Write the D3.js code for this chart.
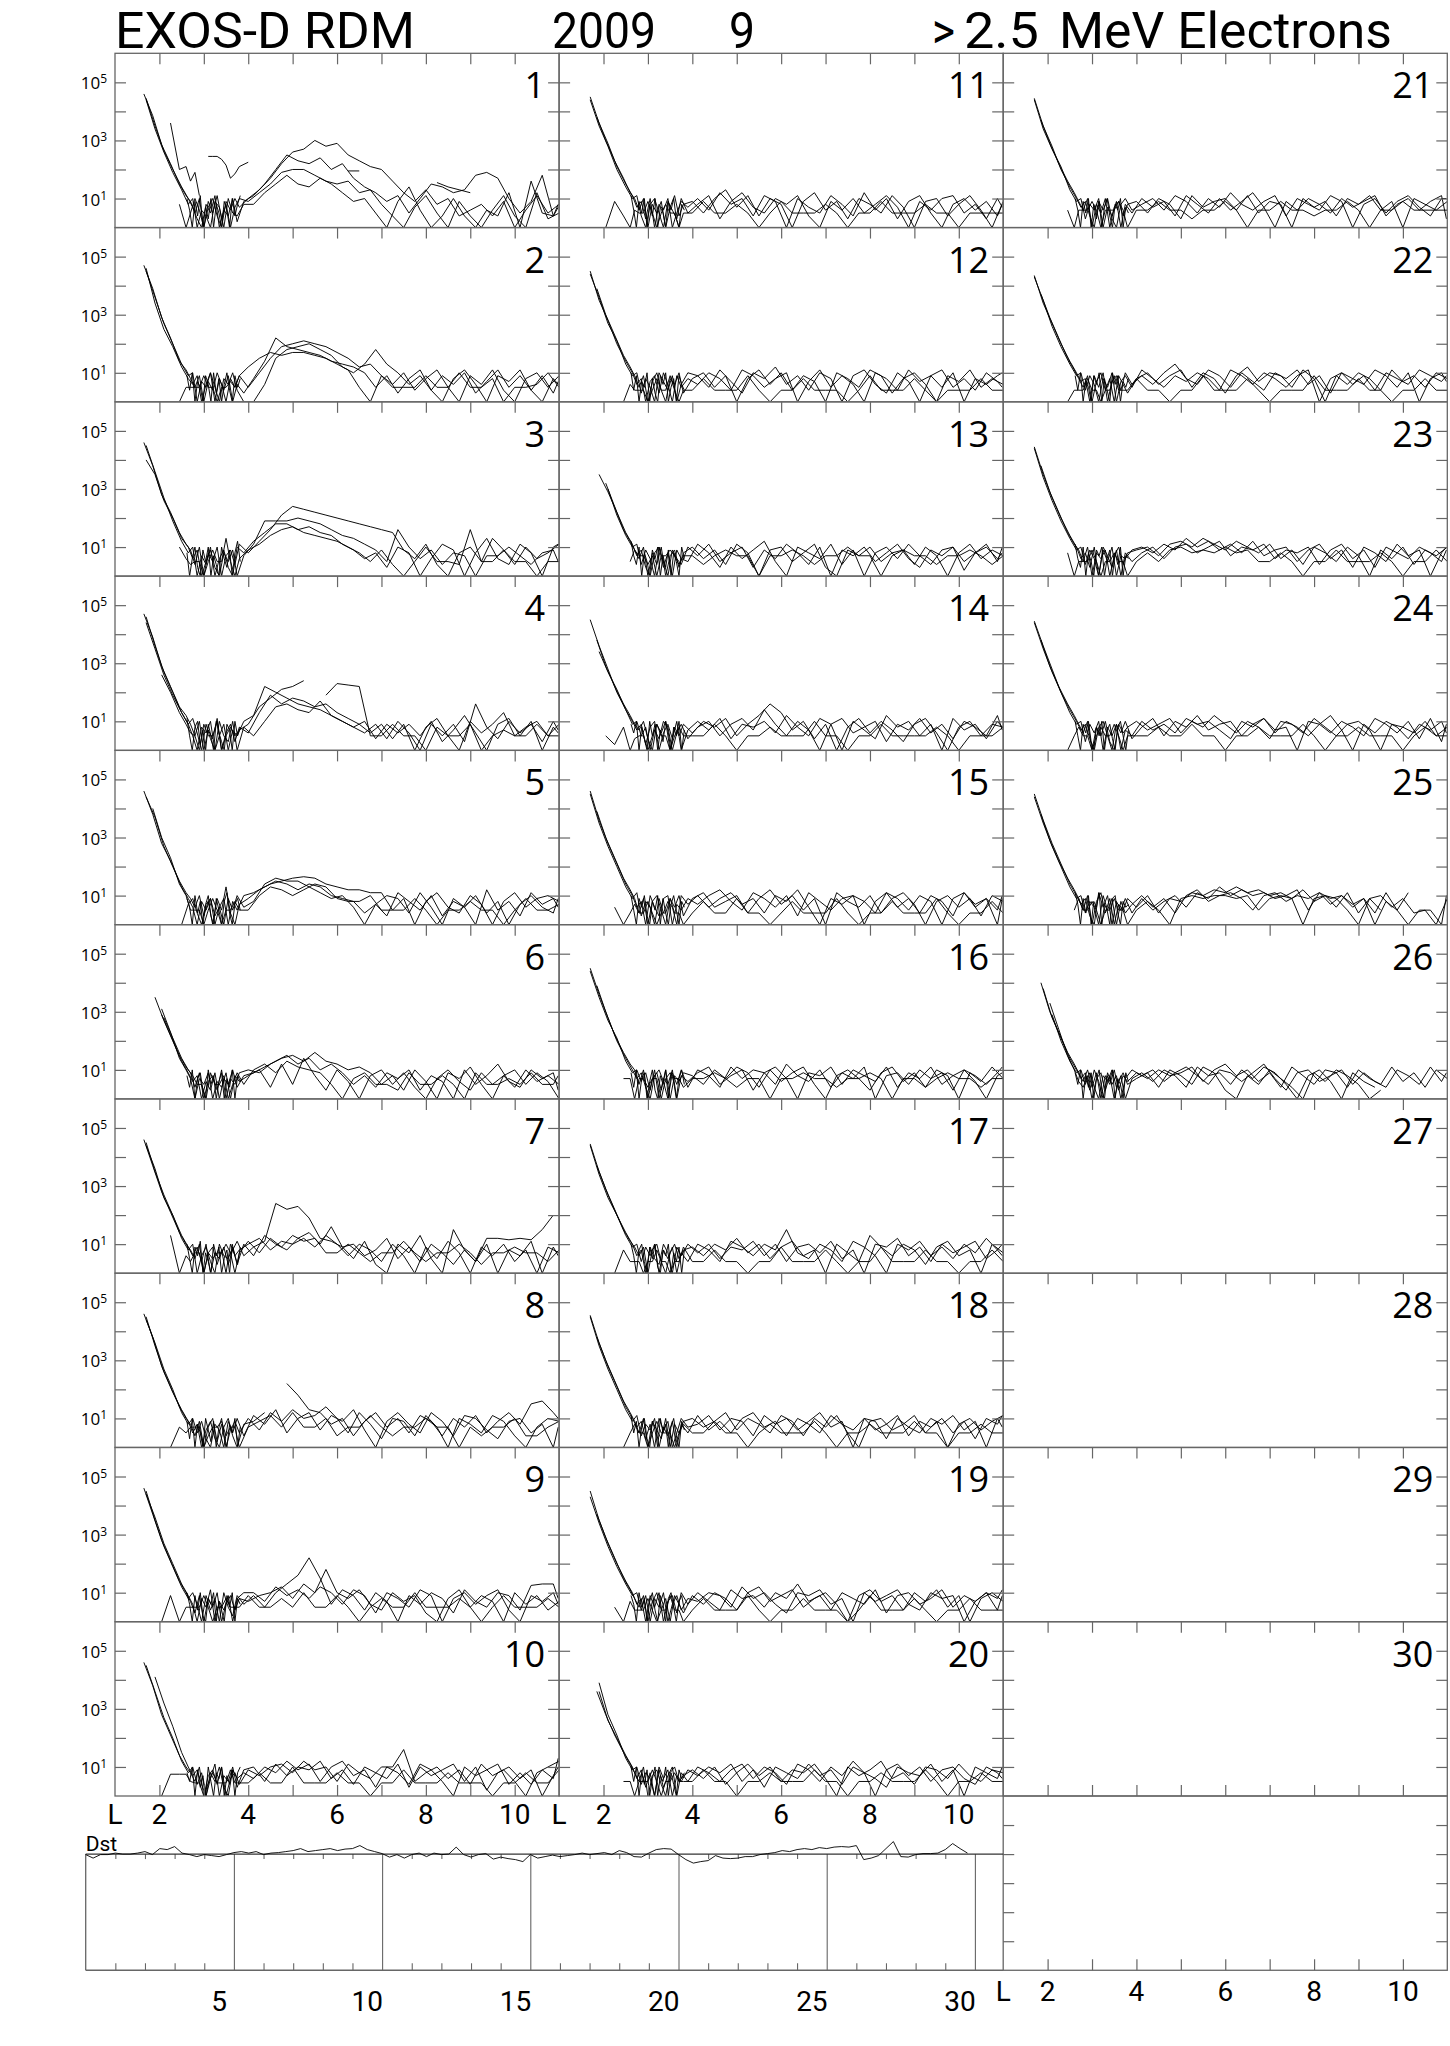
<!DOCTYPE html>
<html><head><meta charset="utf-8">
<script src="https://cdn.jsdelivr.net/npm/d3@7"></script>
<style>
body{margin:0;background:#fff}
svg{display:block}
text{font-family:'Open Sans',sans-serif;fill:#000}
text.ax{font-family:Roboto,sans-serif}
</style>
</head><body>
<svg id="chart" width="1450" height="2046"></svg>
<script>
// ================= DATA =================
const _ = null;
// L-shell sampling grids (even-indexed traces use A, odd-indexed use B, perigee passes use C)
const LGRID_A = [1.65,1.85,2.05,2.25,2.45,2.6,2.7,2.8,2.9,3.0,3.1,3.2,3.3,3.4,3.5,3.6,3.7,3.8,4.0,4.25,4.5,4.75,5.0,5.25,5.5,5.75,6.0,6.25,6.5,6.75,7.0,7.25,7.5,7.75,8.0,8.25,8.5,8.75,9.0,9.25,9.5,9.75,10.0,10.25,10.5,10.75,11.0];
const LGRID_B = [1.7,1.9,2.1,2.3,2.5,2.65,2.75,2.85,2.95,3.05,3.15,3.25,3.35,3.45,3.55,3.65,3.75,3.9,4.12,4.37,4.62,4.87,5.12,5.37,5.62,5.87,6.12,6.37,6.62,6.87,7.12,7.37,7.62,7.87,8.12,8.37,8.62,8.87,9.12,9.37,9.62,9.87,10.12,10.37,10.62,10.87,10.98];
const LGRID_C = [2.62,2.68,2.74,2.8,2.86,2.92,2.98,3.04,3.1,3.16,3.22,3.28,3.34,3.4,3.46,3.52,3.58,3.64,3.7,3.76,3.82];

// Values are log10(count rate); one array per orbit pass, per day panel.
const p1 = [
[4.6,3.85,2.85,2.2,1.5,1.1,.9,.5,1,0,.7,1,.4,0,.9,.6,1,.7,1.0,1.3,1.7,2.2,2.6,2.7,3.0,2.8,2.9,2.5,2.3,2.1,2.0,1.6,1.2,.9,1.3,.8,1.0,.4,.6,.8,.4,.9,0,.6,1.1,.5,.8],
[4.45,3.5,2.65,2.0,1.4,1.0,.7,.3,0,.8,.5,1.1,0,.6,.4,1,.2,.9,1.1,1.5,2.0,2.5,2.3,2.2,2.4,2.0,2.2,1.7,1.4,1.2,.9,1.1,.5,1.0,1.5,1.4,1.2,1.3,1.8,1.9,1.7,1.0,.5,.9,1.8,.4,.7],
[_,_,_,_,.8,0,.5,1,.6,0,.9,.5,1.1,.3,.8,0,.7,1,.9,1.2,1.5,1.9,2.0,2.0,1.8,1.6,1.5,1.6,1.2,1.3,.8,.4,0,.7,1.1,.5,0,.9,.4,0,.6,1.1,.4,0,1.2,.3,.5],
[4.4,3.4,2.6,1.9,1.3,.8,1,0,.6,.4,0,.9,.7,0,1,.5,.4,.8,.8,1.2,1.5,1.8,1.5,1.4,1.7,1.5,1.2,.9,1.0,.5,0,.9,1.4,.6,0,.4,1.0,.4,0,.6,.4,1.2,0,1.6,.5,.4,.8],
[_,_,_,3.6,2.0,2.1,1.6,1.9,1.1,_,2.45,2.45,2.45,2.35,2.15,1.7,1.85,2.1,2.25,_,_,_,_,_,_,_,_,1.95,1.95,_,_,_,_,_,_,1.55,1.4,1.3,1.2,_,_,_,_,_,_,_,_]
];
const p2 = [
[4.7,3.9,2.9,2.2,1.4,1.1,.8,.5,.9,0,.7,.4,1,.6,0,.8,.5,.9,.5,1.0,1.5,1.9,2.0,2.1,2.0,1.9,1.7,1.5,1.2,1.3,.9,.6,1.0,.4,.8,1.1,.5,0,.9,.6,1.1,.4,0,.8,1.0,.5,.9],
[4.5,3.6,2.7,2.0,1.3,.9,1.0,0,.7,.5,1,0,.8,.4,.9,0,.6,.3,.8,1.4,2.2,1.9,1.8,1.7,1.6,1.4,1.3,1.2,1.0,.5,.9,.3,.8,1.1,.4,.9,.6,1.0,.3,.7,1.1,.5,.9,.4,0,.8,.6],
[_,_,_,_,0,.5,.5,.5,.5,.9,.5,.5,0,.5,.5,.7,.5,.9,1.2,1.5,1.7,1.6,1.7,1.7,1.6,1.5,1.3,1.1,.5,0,.9,.5,.5,.5,.9,.5,.5,1.0,.5,.5,.8,0,.5,.5,.6,1.0,.5],
[4.6,3.4,2.5,1.9,1.2,.8,.6,.9,0,.6,1,.5,0,.8,.6,1,.4,0,0,.6,1.5,1.8,1.9,2.0,1.8,1.6,1.2,1.0,1.3,1.8,1.3,1.0,.6,.9,.4,0,.8,1.1,.6,0,.9,.7,1.1,.4,.9,.3,.7]
];
const p3 = [
[4.6,3.8,2.8,2.2,1.5,1.1,.9,.4,1,0,.8,.5,1,0,.7,.9,.4,1.1,.8,1.2,1.6,2.1,2.4,2.3,2.2,2.1,2.0,1.9,1.8,1.7,1.6,1.5,.9,.6,1.1,.4,0,.8,1.0,.5,1.3,.9,.4,1.0,.6,.8,1.1],
[4.0,3.5,2.6,2.0,1.3,1.0,.6,.9,0,.5,.9,.3,0,.8,.5,.9,0,.7,1.1,1.9,1.9,1.9,2.0,1.9,1.8,1.6,1.4,1.3,1.1,.9,.5,1.6,1.0,.6,.9,.4,.8,.7,0,.7,.7,1.0,.7,.4,.8,.9,.5],
[_,_,_,_,1.0,.6,.4,.5,.5,0,.5,.9,.5,.5,1.3,.5,0,.6,.9,1.1,1.4,1.6,1.7,1.5,1.4,1.3,1.2,1.0,.8,.5,.9,.4,0,.5,1.0,.5,.5,.4,1.6,.5,.5,.9,.5,.5,0,.5,.5],
[4.5,3.6,2.7,1.9,1.2,.8,1.0,0,.7,.4,1,0,.6,.9,.3,0,1,.8,1.2,1.5,1.8,1.8,1.6,1.7,1.5,1.4,1.1,.9,.6,.8,.3,1.0,.8,0,.6,1.1,.9,0,.8,1.3,.6,.4,1.1,.8,0,1.0,1.1]
];
const p4 = [
[4.7,3.9,2.9,2.2,1.5,1.2,.9,.5,1,0,.7,.4,1.1,0,.6,.9,.3,.8,.6,1.3,1.9,1.6,1.8,1.7,1.5,1.6,1.3,1.1,.9,.6,.9,.4,.9,0,.8,1.1,.5,0,1.0,.6,.9,1.3,.5,.8,1.0,.5,.9],
[4.4,3.5,2.6,1.9,1.3,.9,.5,0,.8,.6,1,0,.5,.9,0,.7,.5,1,1.2,2.2,2.0,1.8,1.6,1.5,1.4,1.2,1.0,.8,.6,.9,.4,1.0,.6,0,.9,.5,.9,.3,1.6,.8,.4,1.0,.6,.9,.3,1.0,.7],
[_,_,2.6,2.0,1.3,.9,.6,.5,0,.9,.5,.5,1,0,.5,.8,.5,.7,.9,1.5,1.8,2.1,2.2,2.4,_,1.9,2.3,2.25,2.2,.5,.5,.9,.5,.5,0,.8,.5,.5,.9,0,.5,.7,.5,.5,.9,.5,.5],
[4.6,3.6,2.7,2.0,1.3,.9,1.1,.6,0,.9,.4,0,1,.5,.3,1,0,.8,.5,1.0,1.5,1.6,1.4,1.3,1.7,1.2,1.0,.8,1.0,.4,.9,.6,.9,.5,1.0,.3,.7,1.2,.6,0,.9,1.1,.5,1.0,0,.8,.6]
];
const p5 = [
[4.6,3.8,2.8,2.2,1.5,1.1,.9,.6,1,.3,.8,0,.9,.5,1.3,.4,0,.7,.9,1.2,1.4,1.5,1.6,1.65,1.6,1.4,1.3,1.2,1.2,1.1,1.1,.5,.9,0,.8,1.1,.6,.4,1.0,.7,0,.8,1.1,.6,.9,1.0,.8],
[4.4,3.7,2.7,2.0,1.3,.9,.6,0,.8,.5,.9,0,.6,.9,0,.8,.5,1,1.1,1.3,1.5,1.4,1.2,1.4,1.3,1.0,.9,.8,.4,.7,1.0,.9,.4,1.1,.6,0,.9,.6,1.0,.4,.8,0,.7,1.0,.6,.4,.9],
[_,4.0,3.0,2.3,1.4,1.0,.5,.5,.5,0,.5,.9,.5,0,.5,.5,.8,.5,.5,1.0,1.3,1.2,1.0,1.2,1.4,1.3,.9,.8,.8,1.0,.5,.5,.5,.9,.5,0,.5,.5,.8,.5,.5,0,.5,.9,.5,.5,.7],
[_,_,_,_,0,.7,.9,.4,0,.7,.9,.3,.6,0,.9,.5,1,.6,.8,1.4,1.6,1.5,1.5,1.3,1.1,.9,1.0,.6,0,.7,.3,1.1,.8,.5,1.0,.3,.8,.6,0,1.2,.5,.8,.3,1.1,.7,.9,.6]
];
const p6 = [
[_,_,2.9,2.2,1.5,1.1,.9,.4,.9,0,.6,.8,.3,1,0,.7,.5,.9,1.0,.9,1.2,1.4,1.5,1.3,1.6,1.3,1.2,1.0,1.1,.9,.5,.8,.3,1.0,.6,0,.9,.7,1.1,.5,0,.8,1.0,.5,.9,.6,0],
[_,3.5,2.7,2.0,1.3,.9,.6,.8,0,.6,.3,.9,0,.7,.5,1,.4,.8,.9,1.1,1.3,1.5,1.2,1.4,1.0,1.2,.9,.5,.8,.4,.9,.7,1.0,.3,.8,.6,0,1.0,.5,.8,1.2,.6,.4,1.0,.7,.9,.3],
[_,_,3.1,2.3,1.4,1.0,.7,0,.7,.5,.9,0,.6,.4,.9,0,.8,.6,.8,1.0,.4,1.2,.5,1.4,.8,.3,1.0,.6,0,.8,1.0,.5,.9,.4,0,.7,1.0,.6,.3,.9,.5,.8,.4,1.0,.6,.8,.5],
[_,_,2.8,2.1,1.4,1.0,.8,.5,.5,0,.9,.5,.5,.8,0,.5,.9,.5,1.0,1.2,.9,1.3,1.1,1.0,.9,.5,0,.7,.9,.5,.5,.3,.9,.5,.5,.8,.5,0,.9,.5,.5,.7,.5,.9,.5,.5,.8]
];
const p7 = [
[4.6,3.7,2.8,2.1,1.4,1.0,.8,.5,1,0,.7,.9,.3,.8,0,1,.6,.8,1.0,1.2,.8,1.1,1.0,1.2,.9,1.3,1.0,.6,1.0,.8,.4,1.0,.6,0,.9,.5,1.1,.7,0,.9,.6,1.0,.4,.8,0,.9,.7],
[4.4,3.6,2.6,2.0,1.3,.9,.6,.9,.4,1,0,.7,.5,.9,.3,.8,1.1,.6,.9,1.1,2.4,2.2,2.3,1.9,1.2,1.1,.9,1.0,.6,.8,1.2,.5,.9,.4,1.0,.7,.3,.8,.4,1.2,1.2,1.15,1.2,1.15,1.5,2.0,_],
[_,_,_,1.3,0,.6,.4,.7,.7,0,.7,.5,.7,.7,1.0,.7,0,.7,1.1,.7,1.2,.9,1.3,1.1,1.2,.7,.7,1.0,.7,.4,.7,.7,1.1,.7,.4,.7,.7,1.0,.7,.3,.7,.7,.9,.7,.7,.4,.8],
[4.5,3.5,2.7,2.0,1.2,.8,1.0,0,.6,.9,.4,0,1,.6,.5,.9,.3,1,.6,1.3,1.0,.8,1.2,1.4,1.0,1.6,.9,.5,1.1,.3,0,1.0,.7,1.3,.5,0,1.5,.8,.4,1.0,0,.8,.6,1.1,0,.9,.6]
];
const p8 = [
[4.6,3.8,2.8,2.1,1.4,1.0,.8,.4,.9,0,.7,1,.2,.8,0,.6,.9,.5,1.0,.6,1.2,.9,1.3,1.0,1.1,1.4,1.0,.5,1.2,.8,.3,1.0,.9,.4,1.1,.7,0,1.0,.8,.5,1.1,.9,.4,0,.7,1.0,.9],
[4.5,3.5,2.6,1.9,1.3,.9,.5,.8,0,.6,.9,.3,0,.7,1,.4,0,.8,.9,1.2,_,2.2,1.8,1.3,1.2,.8,1.0,.4,.9,1.2,.7,1.0,.5,1.1,.9,.4,1.0,.7,1.1,.5,.9,1.2,.8,1.5,1.6,1.2,1.0],
[_,_,_,0,.7,.5,.7,.7,.7,0,.4,.7,.7,.9,.4,.7,.7,0,.7,.9,1.1,.7,1.2,.7,.7,1.0,.4,.7,.7,1.1,.7,.4,.7,.7,1.0,.7,.7,0,.7,.4,.7,.7,1.0,.4,.4,.7,.9],
[4.4,3.6,2.7,2.0,1.2,.8,1.0,.5,.9,.3,0,.8,.6,0,.9,.5,1,.4,1.1,.8,1.3,.5,1.0,1.2,.6,1.1,.9,1.3,.6,0,.9,1.2,.8,.5,1.2,.9,.4,1.1,1.0,.6,.3,.9,1.0,.5,.8,0,.7]
];
const p9 = [
[4.6,3.7,2.8,2.1,1.4,1.0,.7,.3,.9,0,.8,.5,1,0,.6,.9,.4,.8,.7,.9,1.0,1.2,.8,1.3,1.0,1.8,1.0,.8,1.1,.6,.4,1.0,.7,.9,.3,0,.8,1.1,.5,.9,.7,0,1.0,.6,.9,.4,.7],
[4.5,3.5,2.6,1.9,1.2,.8,1.0,.6,0,.9,.4,.8,0,1,.5,.2,.9,.6,.9,.5,1.0,1.3,1.6,2.2,1.5,.6,1.1,.9,.4,1.0,.7,0,.9,.6,1.0,.8,.3,1.1,.7,.5,1.0,.9,.4,1.25,1.3,1.3,.8],
[_,_,0,.9,0,.5,.5,.5,.5,.9,.5,0,.5,.5,.8,.5,.5,.5,.9,.5,.5,.8,.5,1.0,.5,.5,.9,.5,0,.5,.8,.5,.5,1.0,.5,.5,.5,.8,.5,0,.5,.9,.5,.5,.5,.8,.5],
[4.4,3.6,2.7,2.0,1.3,.9,.6,0,.8,.5,1.1,0,.7,.4,.9,0,.8,1,1.0,.7,1.2,.9,1.1,.8,1.2,1.0,.6,1.1,.9,.3,1.0,.8,.5,1.1,.9,0,.8,1.0,.6,.9,1.1,.4,0,.9,.7,1.0,.6]
];
const p10 = [
[4.6,3.8,2.8,2.1,1.4,1.0,.8,.5,1,0,.7,.9,.4,1,0,.6,.8,.4,.9,.7,1.0,1.1,.8,1.2,.9,1.0,.5,1.1,.8,.6,1.0,1.0,1.6,.5,.8,1.0,.6,.9,.4,1.1,.7,.9,.5,0,.8,1.0,1.2],
[_,4.1,3.2,2.4,1.5,1.0,.7,.9,.4,0,.8,.5,1,.3,0,.9,.6,.8,.6,1.0,.8,1.2,.9,1.1,.5,1.0,1.2,.7,.9,.3,1.0,.8,.4,1.1,.9,.5,0,1.0,.7,.9,1.1,.4,.8,.4,.9,.6,1.3],
[_,_,0,.75,.75,.75,.5,.45,.45,0,.45,.8,.45,.45,.45,.9,.45,.45,.45,.8,.45,.45,1.0,.45,.45,.45,.8,.45,.45,0,.45,.45,.9,.45,.45,.45,.8,.45,.45,.45,0,.45,.45,.8,.45,.45,.9],
[4.5,3.6,2.7,2.0,1.2,.8,1.0,.4,.8,0,.6,1.1,0,.7,.5,1,.3,.9,1.0,.5,1.1,.7,1.0,.9,1.2,.6,.9,.4,1.0,.8,.6,1.1,.3,1.0,.7,.9,1.1,.5,1.0,.2,.8,1.0,.6,.9,0,.7,1.0]
];
const p11 = [
[_,3.8,3.0,2.3,1.7,1.2,1.0,.6,1,0,.8,.5,.9,0,.7,1.1,.4,.8,.9,.5,1.0,1.3,.7,1.1,.4,1.0,.8,0,.9,1.2,.6,.9,.3,1.0,.8,.5,1.1,.7,0,.9,1.0,.4,.8,1.1,.6,0,.9],
[4.5,3.6,2.9,2.1,1.5,1.1,.7,.9,.3,1,0,.8,.6,1,0,.5,.9,.7,1.0,.6,1.2,.8,1.0,.4,1.1,.9,0,1.0,.7,.5,1.1,.8,.4,1.2,.6,1.0,.3,.9,1.1,.5,0,.8,1.0,.6,.9,.4,.8],
[_,_,0,.9,.4,0,.6,.5,.5,.9,.5,0,.5,.8,.5,.5,0,.5,.5,.9,.5,.5,.8,.5,0,.5,.9,.5,.5,.5,.8,.5,0,.5,.5,.9,.5,.5,.5,.8,.5,.5,0,.5,.5,.5,.5],
[4.4,3.5,2.8,2.0,1.4,1.0,1.1,.4,0,.8,1,.5,0,.9,.6,.3,1,.5,.8,1.1,.3,.9,1.2,.7,.5,1.0,.8,1.1,.4,0,.9,.6,1.0,.5,.8,1.1,.7,0,.9,.6,1.0,1.1,.5,.8,.3,1.0,.7]
];
const p12 = [
[_,3.9,3.0,2.3,1.6,1.2,.9,.5,.9,0,.7,1,.4,0,.8,.6,1,.3,.8,1.0,.5,.9,0,.8,1.1,.6,1.0,.4,.9,.7,0,1.0,.8,.5,1.1,.9,.3,.8,1.0,.6,0,.9,.7,1.1,.5,.8,.6],
[4.5,3.5,2.8,2.0,1.4,1.0,.6,.8,0,.7,.9,.3,1,.6,0,.9,.5,.8,.6,1.0,.8,.4,1.1,.9,.5,.8,1.0,0,.7,1.1,.5,.9,.6,0,1.0,.8,.4,1.1,.7,.9,.5,1.0,0,.8,.6,.9,1.0],
[_,_,_,_,0,.6,.4,.4,.4,0,.4,.8,.4,.4,.9,.4,0,.4,.4,.8,.4,.4,.4,.9,.4,0,.4,.4,.8,.4,.4,.4,0,.4,.9,.4,.4,.4,.8,.4,0,.4,.4,.4,.8,.4,.4],
[4.4,3.6,2.7,2.1,1.3,.9,1.0,.3,.8,.5,0,1,.7,.4,.9,0,.6,1,.9,.5,1.1,.7,.3,1.0,.8,1.2,.6,.9,.4,1.0,.8,0,.9,1.1,.6,.3,1.0,.7,0,.9,1.1,.5,.8,.4,1.0,.7,.5]
];
const p13 = [
[_,_,3.2,2.4,1.6,1.2,.9,.6,1,0,.8,.4,1,0,.7,.9,.3,.8,1.0,.6,.9,.4,1.1,.8,0,.9,1.0,.5,.8,1.1,.3,0,.9,.7,1.0,.5,.8,.9,.4,1.0,.7,0,.8,1.1,.6,.9,.7],
[_,3.5,2.9,2.2,1.5,1.1,.7,.9,.3,0,.8,1,.5,0,.9,.6,.4,1,.7,1.1,.5,.8,1.0,.3,.9,.6,1.1,.8,.4,1.0,0,.9,.7,1.0,.5,.8,1.1,.6,.3,.9,.7,1.0,.5,.8,1.0,.6,.8],
[_,_,_,_,_,.5,.9,.7,.7,.4,.7,0,.7,.7,.9,.7,.4,.7,.7,.4,.7,.9,.7,.7,0,.7,.7,.9,.7,.4,.7,.7,1.0,.7,.7,0,.7,.9,.7,.7,.4,.7,.7,.9,.7,.4,.7],
[_,_,3.0,2.1,1.4,1.0,1.1,.4,.9,.6,0,1,.3,.8,0,.9,.6,.5,1.1,.8,.3,1.0,.6,.9,1.2,.5,0,1.0,.8,.6,1.1,.4,.9,0,.8,1.0,.6,1.1,.7,.4,.9,1.0,.2,.8,1.1,.5,1.0]
];
const p14 = [
[_,3.8,2.9,2.2,1.6,1.2,.9,.7,1,.4,0,.9,.6,1,0,.8,.5,.9,.6,1.0,.8,1.1,.5,.9,1.2,1.6,1.3,.7,1.0,.4,.9,0,.8,1.1,.6,1.0,.7,.3,.9,1.1,.6,0,.8,1.0,.5,.9,.8],
[4.5,3.6,2.8,2.0,1.4,1.0,.7,.9,.2,.8,1,0,.6,.9,.4,1,0,.7,1.0,.7,1.1,.4,.9,.8,1.0,.6,1.2,.8,.5,1.1,.9,0,1.0,.7,.4,1.2,.8,1.0,.5,.9,0,1.1,.7,.9,.4,1.0,.8],
[_,_,.5,.2,.8,0,.4,.5,.5,0,.5,.9,.5,.5,0,.5,.8,.5,.5,.5,.9,.5,0,.5,.5,.8,.5,.5,.5,1.0,.5,.5,0,.5,.5,.9,.5,.5,.5,.5,.8,.5,0,.5,.5,.5,.8],
[_,3.4,2.7,2.1,1.4,.9,1.0,.5,.8,0,.7,.4,1,.8,0,.6,.9,.4,.8,1.0,.5,.9,1.1,.7,1.4,.9,.5,1.0,.7,0,.9,1.1,.6,.8,1.0,.3,.9,.7,1.1,.6,.9,.4,1.0,.8,.5,1.2,.7]
];
const p15 = [
[_,3.9,3.0,2.3,1.6,1.2,.9,.4,.9,0,.8,1,.5,0,.9,.6,1,.3,.9,1.1,.6,.8,1.0,.4,.9,1.2,.7,1.0,.5,.9,0,1.1,.8,.6,1.0,.4,.9,1.1,.7,0,.8,1.0,.6,.9,.3,1.0,.8],
[4.6,3.6,2.8,2.1,1.4,1.0,.6,.8,0,1,.6,.3,.9,1,0,.7,.5,.9,.7,1.0,1.2,.8,.5,1.1,.9,.6,1.0,.3,1.1,.8,.5,.9,1.0,0,.8,1.1,.6,.9,.4,1.0,.8,.3,1.1,.7,.9,0,.9],
[_,_,_,.6,0,.4,.7,.4,.4,.8,.4,0,.4,.4,.9,.4,.4,0,.4,.8,.4,.4,.9,.4,.4,0,.4,.8,.4,.4,.4,.9,.4,0,.4,.4,.8,.4,.4,.4,.9,.4,0,.4,.4,.8,.4],
[4.5,3.5,2.7,2.0,1.3,.9,1.1,.3,.8,.6,0,.9,.4,.8,.6,0,1,.7,1.0,.6,.9,1.1,.7,.9,.4,1.0,.8,1.2,.6,0,.9,.7,1.0,.8,.4,1.1,.9,.5,1.0,.8,0,.9,1.1,.6,.9,.5,1.0]
];
const p16 = [
[_,3.9,3.0,2.2,1.6,1.2,1.0,.5,1,0,.7,.9,.3,1,0,.8,.6,.9,.8,.5,1.0,.7,1.1,.9,.4,1.0,.6,.9,1.1,.5,0,.8,1.0,.7,.3,.9,1.1,.6,.9,.4,1.0,.8,0,.9,.6,1.1,.7],
[4.5,3.6,2.8,2.0,1.4,1.0,.7,.9,.4,0,.8,1,.6,0,.9,.5,1,.4,1.0,.8,.4,1.1,.7,1.0,.9,.5,1.2,.8,.6,1.0,.4,.9,.7,1.1,0,.8,.9,.5,1.0,.7,.9,.3,1.0,.8,.5,.9,1.1],
[_,_,_,_,.7,.7,0,.7,.7,.4,.7,.7,0,.7,.9,.7,.7,.4,.7,.7,.9,.7,.4,.7,.7,0,.7,.7,.9,.7,.7,.4,.7,.7,.9,.7,0,.7,.7,.4,.7,.9,.7,.7,.4,.7,.7],
[4.4,3.5,2.7,2.1,1.3,.9,1.0,.6,.9,.3,1,0,.7,.5,1,0,.8,.6,.9,1.1,.5,.8,1.0,.3,.9,1.1,.7,0,.9,.8,1.1,.5,1.0,.8,.6,1.1,.4,.9,.7,1.1,.5,.8,1.0,.6,0,.8,.9]
];
const p17 = [
[_,3.7,2.9,2.2,1.5,1.1,.9,.6,.9,0,.8,1,.4,0,.7,1,.5,.8,.9,.6,1.0,.8,1.2,.7,1.0,.5,.9,1.1,.6,.8,0,1.0,.7,.4,1.3,.9,.6,1.0,.8,.3,.9,1.1,.6,.8,0,1.0,.7],
[4.45,3.5,2.7,2.0,1.4,1.0,.6,.8,0,.9,.5,.3,1,.7,0,.9,.6,1,.7,1.0,.5,.9,.8,1.1,.6,1.0,.4,.9,1.0,.7,1.1,.5,.8,0,1.0,.9,1.2,.6,.9,.4,1.0,.7,.9,1.1,.5,.8,1.0],
[_,_,_,0,.8,.4,.4,.4,0,.4,.4,.8,.4,.4,0,.4,.4,.9,.4,.4,.8,.4,.4,0,.4,.4,.9,.4,.4,.4,.8,.4,0,.4,.4,.9,.4,.4,.4,.8,.4,.4,0,.4,.4,.8,.4],
[4.4,3.4,2.6,2.0,1.3,.9,1.0,.4,.9,.6,1,0,.8,.5,.9,0,.7,.4,1.0,.8,.4,1.1,.9,.6,1.0,.8,1.5,.7,.5,1.0,.8,.4,1.1,.9,.6,0,1.0,.8,1.1,.6,.9,.5,1.0,.7,1.2,.8,.6]
];
const p18 = [
[_,3.8,3.0,2.3,1.6,1.2,.9,.5,1,0,.9,.6,.3,1,0,.8,.5,.9,1.0,.7,.9,1.2,.6,1.0,.8,.5,1.1,.9,.4,1.0,.7,1.1,.5,0,.9,1.0,.6,.8,1.1,.5,.9,0,.8,1.0,.6,.9,1.1],
[4.55,3.6,2.8,2.1,1.4,1.0,.7,.9,.3,.8,0,1,.6,.9,0,.5,1,.7,.8,1.1,.6,1.0,.9,.4,1.1,.8,1.0,.6,.9,1.2,.7,.9,0,1.0,.6,.8,1.1,.4,.9,.7,1.0,.5,.9,.3,1.0,.8,1.1],
[_,_,_,_,0,.5,.8,.5,.5,0,.5,.9,.5,.5,.5,0,.5,.8,.5,.5,.9,.5,.5,0,.5,.8,.5,.5,.5,.9,.5,0,.5,.5,.8,.5,.5,.5,.9,.5,.5,0,.5,.5,.8,.5,.5],
[4.5,3.5,2.7,2.0,1.3,.9,1.1,.4,.8,.6,1,0,.7,.4,.9,0,.8,.5,1.1,.6,.9,.5,1.0,1.2,.7,.9,.4,1.0,.8,.5,1.1,.8,.6,1.0,.9,.3,1.0,.7,.5,1.0,.8,1.1,.6,.9,0,1.0,.7]
];
const p19 = [
[_,3.7,2.9,2.2,1.5,1.1,.8,.5,.9,0,.7,1,.4,.8,0,.9,.6,.3,.9,.6,1.0,.8,.4,1.0,1.2,.7,.9,1.1,.5,.8,1.0,.6,0,.9,1.1,.7,.9,.4,1.0,.7,1.1,.5,.9,0,.8,1.0,.7],
[4.5,3.5,2.7,2.0,1.4,1.0,.6,.8,0,.9,.5,1,0,.7,.9,.3,1,.6,1.0,.7,.4,1.1,.8,.9,.5,1.0,.8,1.3,.7,.9,.4,1.0,.8,.6,1.1,.3,.9,1.0,.6,.8,1.1,.5,.9,.7,1.0,.4,.9],
[_,_,_,.5,0,.7,.4,.4,.4,.8,.4,0,.4,.4,.9,.4,.4,0,.4,.8,.4,.4,.4,.9,.4,0,.4,.4,.8,.4,.4,.4,0,.4,.9,.4,.4,.4,.8,.4,0,.4,.4,.8,.4,.4,.4],
[4.3,3.4,2.6,1.9,1.3,.9,1.0,.4,.9,0,.8,.5,1,0,.6,.9,.4,.8,.7,1.0,.9,.5,1.2,.8,1.0,.6,.3,1.0,.9,1.1,.6,.8,0,1.0,.7,.9,1.1,.6,.4,1.0,.8,.9,0,.7,1.0,.8,1.1]
];
const p20 = [
[_,3.6,2.8,2.1,1.5,1.1,.8,.5,1,0,.7,.9,.4,0,.8,1,.5,.7,.9,.6,1.0,.4,.8,1.1,.7,1.0,.5,.9,.8,1.1,.6,0,1.0,.7,.9,1.2,.6,.8,.4,1.0,.9,.6,1.1,.7,.5,.9,.8],
[_,3.6,2.6,2.0,1.4,1.0,.6,.9,.3,.8,0,1,.6,.9,0,.7,.5,.9,.7,1.0,.8,1.1,.5,.9,.3,1.0,.8,.6,1.1,.7,.9,.4,1.0,.8,0,.9,1.1,.7,1.0,.5,.9,1.0,.6,.4,1.0,.8,.6],
[_,_,_,_,.5,.5,0,.5,.5,.5,.9,.5,0,.5,.5,.8,.5,.5,.5,.9,.5,.5,0,.5,.5,.8,.5,.5,.5,.9,.5,.5,0,.5,.5,.8,.5,.5,.5,.9,.5,0,.5,.5,.8,.5,.5],
[_,3.9,2.8,2.1,1.3,.9,1.0,.4,.8,.6,0,.9,.3,.7,1,0,.8,.5,1.0,.8,.5,.9,1.1,.6,1.0,.8,.4,1.1,.9,.5,1.0,.7,1.2,.8,.6,.3,1.0,.8,.7,1.1,.5,.9,0,1.0,.8,.6,1.0]
];
const p21 = [
[_,3.7,2.9,2.2,1.6,1.2,.9,.6,1,0,.8,.5,1,0,.7,.9,.4,.8,.9,.5,1.0,.8,.3,1.1,.7,.9,1.0,.6,1.1,.5,.9,.8,0,1.0,.7,.9,.4,1.0,.8,1.1,.6,.9,0,1.0,.8,.6,.9],
[4.45,3.5,2.8,2.0,1.4,1.0,.7,.9,.4,0,.9,.6,1,.3,0,.8,1,.6,.8,1.0,.6,1.1,.9,.5,1.0,.7,1.2,.8,.6,.9,1.1,.4,1.0,.8,.6,1.1,.9,0,.8,1.0,.5,.9,1.1,.7,.4,1.0,1.0],
[_,_,_,_,.6,0,.6,.6,.6,.9,.6,0,.6,.6,.6,.9,.6,0,.6,.6,.9,.6,.6,.3,.6,.6,.9,.6,0,.6,.6,.9,.6,.6,.4,.6,.6,.9,.6,0,.6,.6,.9,.6,.6,.6,.6],
[4.4,3.4,2.7,2.1,1.3,.9,1.0,.3,.8,.6,1,0,.7,.4,.9,0,.8,.5,1.0,.7,.9,.4,1.1,.8,.5,1.0,.6,.9,1.2,.7,0,.9,.6,1.0,.8,.5,1.0,.7,.9,1.1,.4,.8,1.0,.6,.9,1.1,.3]
];
const p22 = [
[_,3.7,2.9,2.2,1.5,1.1,.8,.5,.9,0,.7,1,.4,.8,0,.9,.6,.3,.8,1.0,.6,.9,1.1,.5,1.0,.8,.3,.9,1.2,.7,1.0,.9,.5,1.1,.8,0,.9,.6,1.0,.8,.4,1.1,.7,.9,.5,1.0,.8],
[4.35,3.4,2.7,2.0,1.4,1.0,.7,.8,0,.9,.5,1,0,.7,.9,.4,1,.6,.9,.6,1.0,1.3,.8,.6,1.1,.9,.5,1.0,.7,.4,1.0,.8,1.1,.6,.9,.3,1.0,.8,.6,1.1,.9,.5,1.0,0,.8,1.0,.7],
[_,_,_,_,0,.4,.4,.4,.8,.4,.4,0,.4,.4,.9,.4,.4,.4,.8,.4,.4,0,.4,.4,.9,.4,.4,.4,.8,.4,0,.4,.4,.4,.9,.4,.4,.4,.8,.4,.4,0,.4,.4,.8,.4,.4],
[4.3,3.5,2.6,1.9,1.3,.9,1.0,.4,.9,.6,0,.8,.5,1,0,.7,.9,.5,1.1,.8,.5,.9,.7,1.0,.8,.4,1.1,.9,.6,1.0,.8,.5,.9,1.1,0,.8,1.0,.6,.9,.4,1.0,.8,.6,1.1,.9,.7,.9]
];
const p23 = [
[_,3.8,2.9,2.2,1.5,1.1,.9,.5,1,0,.8,.6,.9,0,.7,1,.4,.8,.9,1.0,.7,1.1,1.2,1.0,1.3,1.1,.9,1.2,1.0,.8,1.1,.6,.9,.4,1.0,.8,.5,1.0,.7,0,.9,.6,1.0,.4,.9,.7,1.0],
[4.45,3.5,2.7,2.0,1.4,1.0,.6,.8,.3,1,0,.9,.5,1,0,.7,.6,.9,1.0,.8,1.1,.9,1.3,1.0,1.2,.9,1.1,.8,1.2,.7,.9,1.0,.5,.9,1.1,.6,.9,.3,1.0,.8,.5,1.1,.7,.9,0,.8,1.0],
[_,_,_,_,.8,0,.5,.5,.5,.9,.5,0,.5,.5,.8,.5,.5,0,.5,.8,.5,.9,1.0,.8,.9,.8,1.0,.8,.9,.5,.5,.8,.5,0,.5,.5,.9,.5,.5,.5,.8,.5,0,.5,.5,.9,.5],
[4.4,3.4,2.6,1.9,1.3,.9,1.0,.4,.9,.6,0,1,.7,.3,.9,0,.8,.5,.8,1.0,.6,1.0,1.1,.8,1.0,1.2,.7,1.0,.9,1.1,.6,.9,.8,1.0,.4,.9,1.1,.6,.9,.3,1.0,.8,.6,1.0,.8,.5,.9]
];
const p24 = [
[_,3.8,2.9,2.2,1.6,1.2,.9,.6,1,0,.8,.5,1,.3,0,.9,.6,.8,1.0,.7,.9,1.1,.6,1.0,.8,1.2,.9,.6,1.0,.8,.4,1.0,.9,.6,1.1,.8,.5,.9,1.0,.7,0,.9,.8,.6,1.0,.5,.8],
[4.45,3.6,2.8,2.0,1.4,1.0,.7,.9,.4,0,.8,1,.5,0,.9,.6,1,.4,.8,1.1,.5,1.0,.8,1.2,.7,.9,1.0,.5,.9,1.1,.7,.8,0,1.0,.9,.6,1.0,.8,.5,1.1,.9,.6,1.0,.4,1.1,.3,.9],
[_,_,_,_,0,.5,.8,.5,.5,0,.5,.8,.5,.5,.9,.5,0,.5,.5,.5,.8,.5,.5,.9,.5,.5,0,.5,.5,.8,.5,.5,.5,.9,.5,0,.5,.5,.8,.5,.5,.5,0,.5,.8,.5,.5],
[4.4,3.5,2.7,2.0,1.3,.9,1.0,.3,.9,.6,1,0,.8,.5,.9,0,.7,.5,1.0,.7,.9,.6,1.1,.9,1.0,.7,.4,1.0,.8,1.1,.6,1.0,.8,.5,.9,1.2,.7,0,.9,.6,1.0,.8,.4,.9,.7,1.0,.6]
];
const p25 = [
[_,3.8,2.9,2.2,1.6,1.2,.9,.5,1,0,.8,1.1,.4,.9,0,.7,.5,.9,.6,1.0,.4,.9,.8,1.1,1.0,1.2,1.1,1.3,1.1,1.2,1.0,1.1,.9,1.2,.8,1.0,.6,1.1,.4,.9,1.0,.6,.9,.4,.5,0,.9],
[4.5,3.6,2.8,2.1,1.4,1.0,.7,.9,.3,0,1.1,.6,1,0,.8,.5,.9,.4,.9,.5,.8,1.0,.6,1.1,.9,1.3,1.0,1.2,1.0,1.1,.9,1.0,1.2,.5,1.1,.9,1.0,.7,.9,.4,1.1,.5,0,.5,.5,0,1.0],
[_,_,_,_,_,.5,.9,.5,.5,.8,.5,0,.5,.5,.9,.5,.5,0,.5,.8,.5,0,.9,1.0,.9,1.0,1.0,.9,1.0,.5,.9,1.0,.9,0,.9,1.0,.9,.5,0,.9,.5,_,_,_,_,_,_],
[4.4,3.5,2.7,2.0,1.3,.9,1.0,.4,.8,.6,0,1,.5,.9,0,.8,.4,.7,1.0,.6,.9,.4,1.0,1.2,.8,1.0,1.1,.9,.5,1.0,1.1,.8,1.0,.9,1.1,.7,1.0,.6,.9,0,.8,.5,1.1,_,_,_,_]
];
const p26 = [
[_,4.0,3.0,2.3,1.6,1.2,.9,.6,1,.4,.9,0,.8,.5,1,.3,.8,.6,.9,.7,1.0,.8,.9,1.1,.6,1.0,1.2,.8,1.0,.6,.9,.4,1.1,.8,.5,1.0,.9,.4,1.0,.7,.5,1.1,.6,.9,.4,1.0,.7],
[_,3.8,2.8,2.1,1.4,1.0,.7,.9,.3,1,.6,0,.9,.5,.8,0,.7,1,.8,1.0,.6,.9,1.1,.8,.5,1.0,.9,.6,.9,1.2,.7,.3,.9,1.0,.6,.8,1.0,.5,.9,.6,.4,1.0,.8,.5,1.1,.6,.9],
[_,_,3.3,2.4,1.5,1.0,.6,.4,.8,0,.7,.9,.3,.8,0,.6,.9,.5,.7,.9,.4,1.0,.8,.5,1.1,.9,.3,0,.8,.5,1.0,.7,.4,0,.9,.6,1.0,.8,.5,0,.3,_,_,_,_,_,_],
[_,_,2.9,2.0,1.3,.9,1.0,.5,.9,.4,0,.8,.6,1,.4,.8,0,.7,.9,.6,1.0,.8,.4,1.1,.8,.9,.5,1.0,.7,1.1,.9,.5,0,.8,1.0,.6,0,.9,.6,.4,_,_,_,_,_,_,_]
];

// Densely sampled perigee passes (log10 count, on LGRID_C), one row per day 1..26
const DENSE = [
[1.0,.6,0,.9,.4,1.1,0,.7,.3,1,0,.8,.5,0,.9,.6,0,1,.4,.8,1.1],
[.9,.4,1,0,.7,.5,0,.9,.6,0,1,.3,.8,0,.6,1,.4,0,.9,.5,.8],
[.8,0,.6,1,.3,0,.9,.5,1,0,.7,.4,0,1,.6,.3,.9,0,.8,1.2,.5],
[1.1,.5,0,.8,1,.2,.7,0,.9,.5,0,1,.6,.3,0,.9,.7,0,1,.5,.8],
[.9,.6,0,1,.4,.8,0,.7,1,.3,0,.9,.5,0,.8,1.1,.4,0,.7,.9,.5],
[.8,.4,1,0,.7,.9,.3,0,1,.5,.8,0,.6,.9,0,.7,.4,1,0,.8,.6],
[1,.5,0,.9,.6,1.1,0,.7,.4,0,1,.6,.9,0,.5,.8,0,1,.6,.3,.9],
[.9,.3,1,0,.8,.5,0,1,.6,.2,.9,0,.7,1,.4,0,.8,.5,1,0,.7],
[1,.6,0,.9,.4,1,.2,0,.8,.6,1,0,.7,.4,0,.9,.5,1,0,.8,.6],
[.8,.5,1,0,.9,.3,.7,0,1,.5,0,.8,.6,1,0,.7,.4,.9,0,.8,1],
[1.1,.6,0,.9,.5,1,0,.8,.4,1,0,.7,.5,0,.9,.6,1,.3,0,.8,.6],
[1,.4,.9,0,.7,.5,1,0,.8,.3,0,.9,.6,1,0,.5,.8,0,.9,.6,.4],
[1.2,.7,.4,1,0,.8,.5,0,.9,.6,1,0,.7,.3,.9,0,.8,.5,0,1,.6],
[.9,.6,1,0,.8,.4,0,1,.5,.9,0,.7,.3,1,.6,0,.8,.5,1,0,.7],
[1,.5,0,.9,.6,1,.3,0,.8,.5,1,0,.9,.4,0,.7,1,.5,0,.8,.6],
[.9,.4,1,0,.7,.9,0,.6,1,.3,0,.8,.5,1,0,.9,.6,0,.7,1,.5],
[1,.6,0,.8,1,.4,0,.9,.5,1,.2,0,.8,.6,1,0,.7,.4,.9,0,.8],
[1.1,.5,.9,0,.7,1,.3,0,.9,.6,0,1,.5,.8,0,.7,1,.4,0,.9,.6],
[.9,.6,0,1,.5,.8,0,.7,1,.4,0,.9,.6,0,.8,1,.5,0,.7,.9,.4],
[1,.5,1,0,.8,.4,.9,0,.6,1,0,.7,.5,1,0,.8,.4,0,.9,.6,.8],
[1,.6,0,.9,.5,1,0,.8,.3,.9,0,.7,1,.4,0,.8,.6,1,0,.7,.5],
[.9,.4,1,0,.7,.5,0,.9,.6,1,0,.8,.4,0,1,.6,.9,0,.7,.5,.8],
[1.1,.6,.3,1,0,.8,.5,0,.9,.7,1,0,.6,.9,0,.8,.4,1,0,.7,.6],
[1,.5,0,.9,.6,1,.3,0,.8,.5,1,0,.7,.9,.4,0,.8,1,.5,0,.7],
[1.1,.7,0,.9,.4,1,0,.8,.6,1.1,0,.7,.5,0,.9,1,.4,0,.8,.6,.7],
[.9,.5,1,0,.8,.4,.9,0,.7,1,.3,0,.8,.6,1,0,.7,.5,0,.9,.6]
];

// Dst index (nT), 6-hourly from 1 Sep 2009 00 UT
const DST = [
-1,-8,-1,-1,2,0,0,2,5,-1,11,9,15,2,-1,-5,-1,-3,-5,-1,
3,5,2,5,-1,2,3,5,7,11,5,7,9,11,7,10,11,17,9,5,
1,-6,-1,-8,-1,2,-5,2,-1,0,14,-1,-6,-1,1,-10,-6,-9,-11,-15,
-1,-8,-5,-2,-5,-3,-1,2,-1,1,3,-1,7,3,-5,-6,2,9,11,10,
-1,-11,-18,-15,-13,-3,-8,-9,-8,-5,-5,-1,1,3,7,5,9,11,9,13,
11,14,15,14,17,-11,-8,-3,11,25,-5,-6,-1,1,1,2,9,21,11,2
];
const DST_PER_DAY = 4;

const PANEL_NUMBERS = d3.range(1, 31);
const L_TICKS = [2,3,4,5,6,7,8,9,10];
const L_LABELS = [1,2,4,6,8,10];          // 1 is drawn as "L"
const DECADE_TICKS = [1e1,1e2,1e3,1e4,1e5];
const DECADE_LABEL_EXP = [1,3,5];
const DAY_LABELS = [5,10,15,20,25,30];
const DAY_MAJOR = [6,11,16,21,26,31];
const TITLE_TEXT = ['EXOS-D RDM','2009','9','>','2.5','MeV Electrons'];

// ================= LAYOUT =================
const X0 = 115, COLW = 444.1, Y0 = 53.3, ROWH = 174.27, NROWS = 10;
const TICK = 11;
const FRAME = '#666';
const DST_LEFT = 85.7, DAY_W = 29.64;

const svg = d3.select('#chart');
const defs = svg.append('defs');

function scalesFor(col, rowPos) {
  const x0 = X0 + col * COLW, y0 = Y0 + rowPos * ROWH;
  return {
    x0, y0,
    x: d3.scaleLinear().domain([1, 11]).range([x0, x0 + COLW]),
    y: d3.scaleLog().domain([1, 1e6]).range([y0 + ROWH, y0])
  };
}

function drawTicks(g, s, opts) {
  const style = sel => sel.attr('color', FRAME).call(a => a.select('.domain').remove())
    .call(a => a.selectAll('line').attr('stroke-width', 1.2));
  if (opts.top) g.append('g').attr('transform', `translate(0,${s.y0})`)
    .call(d3.axisBottom(s.x).tickValues(L_TICKS).tickSize(TICK).tickFormat('')).call(style);
  if (opts.bottom) g.append('g').attr('transform', `translate(0,${s.y0 + ROWH})`)
    .call(d3.axisTop(s.x).tickValues(L_TICKS).tickSize(TICK).tickFormat('')).call(style);
  g.append('g').attr('transform', `translate(${s.x0},0)`)
    .call(d3.axisRight(s.y).tickValues(DECADE_TICKS).tickSize(TICK).tickFormat('')).call(style);
  g.append('g').attr('transform', `translate(${s.x0 + COLW},0)`)
    .call(d3.axisLeft(s.y).tickValues(DECADE_TICKS).tickSize(TICK).tickFormat('')).call(style);
}

const PANEL_DATA = [p1,p2,p3,p4,p5,p6,p7,p8,p9,p10,p11,p12,p13,p14,p15,p16,p17,p18,p19,p20,p21,p22,p23,p24,p25,p26];

// ---- title ----
const titleX = [115, 552, 729, 932, 964, 1059];
const titleLen = [300, 104, 26, 23, 75, 333];
TITLE_TEXT.forEach((t, i) => {
  svg.append('text').attr('x', titleX[i]).attr('y', 47.5)
    .style('font-family', 'Roboto, sans-serif')
    .attr('font-size', 50).text(t)
    .attr('textLength', titleLen[i]).attr('lengthAdjust', 'spacingAndGlyphs');
});

// ---- panels ----
PANEL_NUMBERS.forEach(n => {
  const col = Math.floor((n - 1) / NROWS), row = (n - 1) % NROWS;
  const s = scalesFor(col, row);
  const g = svg.append('g');
  const clipId = 'clip' + n;
  defs.append('clipPath').attr('id', clipId).append('rect')
    .attr('x', s.x0).attr('y', s.y0).attr('width', COLW).attr('height', ROWH);

  const line = d3.line().defined(d => d !== null).x(d => s.x(d[0])).y(d => s.y(d[1]));
  const tg = g.append('g').attr('clip-path', `url(#${clipId})`);
  const toPts = (t, grid) => Array.from(grid, (L, j) =>
    (t[j] === null || t[j] === undefined) ? null : [L, Math.pow(10, Math.max(0, t[j]))]);
  const traces = PANEL_DATA[n - 1] || [];
  traces.forEach((t, i) => {
    const grid = i % 2 === 0 ? LGRID_A : LGRID_B;
    tg.append('path').attr('d', line(toPts(t, grid))).attr('fill', 'none')
      .attr('stroke', '#000').attr('stroke-width', 0.95);
  });
  if (DENSE[n - 1]) {
    tg.append('path').attr('d', line(toPts(DENSE[n - 1], LGRID_C))).attr('fill', 'none')
      .attr('stroke', '#000').attr('stroke-width', 0.95);
  }

  drawTicks(g, s, { top: true, bottom: row === NROWS - 1 });
  g.append('rect').attr('x', s.x0).attr('y', s.y0).attr('width', COLW).attr('height', ROWH)
    .attr('fill', 'none').attr('stroke', FRAME).attr('stroke-width', 1.3);

  g.append('text').attr('x', s.x0 + COLW - 14).attr('y', s.y0 + 45)
    .attr('text-anchor', 'end').attr('font-size', 36).text(n);

  if (col === 0) {
    DECADE_LABEL_EXP.forEach(e => {
      const t = g.append('text').attr('x', 107).attr('y', s.y(Math.pow(10, e)) + 7)
        .attr('text-anchor', 'end').attr('font-size', 17).text('10');
      t.append('tspan').attr('dy', -6).attr('font-size', 12).text(e);
    });
  }
  if (row === NROWS - 1 && col < 2) {
    L_LABELS.forEach(v => g.append('text').attr('class', 'ax').attr('x', s.x(v)).attr('y', 1824)
      .attr('text-anchor', 'middle').attr('font-size', 28).text(v === 1 ? 'L' : v));
  }
});

// ---- empty L box under column 3 ----
(function () {
  const s = scalesFor(2, NROWS);
  const g = svg.append('g');
  drawTicks(g, s, { top: false, bottom: true });
  g.append('rect').attr('x', s.x0).attr('y', s.y0).attr('width', COLW).attr('height', ROWH)
    .attr('fill', 'none').attr('stroke', FRAME).attr('stroke-width', 1.3);
  L_LABELS.forEach(v => g.append('text').attr('class', 'ax').attr('x', s.x(v)).attr('y', 2000.5)
    .attr('text-anchor', 'middle').attr('font-size', 28).text(v === 1 ? 'L' : v));
})();

// ---- Dst panel ----
(function () {
  const sRef = scalesFor(2, NROWS);
  const yZero = sRef.y(1e4), yBot = sRef.y0 + ROWH;
  const xd = d3.scaleLinear().domain([1, 31]).range([DST_LEFT, DST_LEFT + 30 * DAY_W]);
  const yd = d3.scaleLinear().domain([-232, 0]).range([yBot, yZero]);
  const g = svg.append('g');
  const minorDays = d3.range(2, 31).filter(d => !DAY_MAJOR.includes(d));
  const style = sel => sel.attr('color', FRAME).call(a => a.select('.domain').remove())
    .call(a => a.selectAll('line').attr('stroke-width', 1.1));
  g.append('g').attr('transform', `translate(0,${yBot})`)
    .call(d3.axisTop(xd).tickValues(minorDays).tickSize(7).tickFormat('')).call(style);
  g.append('g').attr('transform', `translate(0,${yZero})`)
    .call(d3.axisBottom(xd).tickValues(minorDays).tickSize(5).tickFormat('')).call(style);
  g.append('g').attr('transform', `translate(0,${yZero})`)
    .call(d3.axisBottom(xd).tickValues(DAY_MAJOR).tickSize(yBot - yZero).tickFormat('')).call(style);
  g.append('line').attr('x1', DST_LEFT).attr('x2', DST_LEFT).attr('y1', yZero).attr('y2', yBot)
    .attr('stroke', FRAME).attr('stroke-width', 1.3);
  g.append('line').attr('x1', DST_LEFT).attr('x2', sRef.x0).attr('y1', yBot).attr('y2', yBot)
    .attr('stroke', FRAME).attr('stroke-width', 1.3);
  g.append('line').attr('x1', DST_LEFT).attr('x2', sRef.x0).attr('y1', yZero).attr('y2', yZero)
    .attr('stroke', '#333').attr('stroke-width', 1.2);
  const dstLine = d3.line().x((d, i) => xd(1 + i / DST_PER_DAY)).y(d => yd(d));
  g.append('path').attr('d', dstLine(DST)).attr('fill', 'none').attr('stroke', '#000').attr('stroke-width', 0.9);
  g.append('text').attr('class', 'ax').attr('x', DST_LEFT).attr('y', 1851).attr('font-size', 21).text('Dst');
  DAY_LABELS.forEach(d => g.append('text').attr('class', 'ax').attr('x', xd(d + 0.5)).attr('y', 2010.5)
    .attr('text-anchor', 'middle').attr('font-size', 28).text(d));
})();
</script>
</body></html>
